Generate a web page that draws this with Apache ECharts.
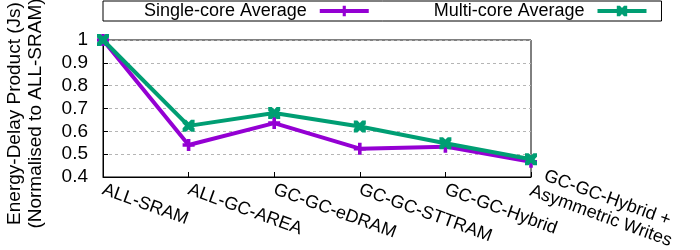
<!DOCTYPE html>
<html>
<head>
<meta charset="utf-8">
<script src="https://cdn.jsdelivr.net/npm/echarts@6/dist/echarts.min.js"></script>
<style>
html,body{margin:0;padding:0;background:#fff;}
#chart{width:700px;height:250px;}
</style>
</head>
<body>
<div id="chart"></div>
<script>
// ---- data ----
var categories = ['ALL-SRAM', 'ALL-GC-AREA', 'GC-GC-eDRAM', 'GC-GC-STTRAM', 'GC-GC-Hybrid', 'GC-GC-Hybrid +\nAsymmetric Writes'];
var singleCore = [1.0, 0.54, 0.636, 0.524, 0.533, 0.467];
var multiCore = [1.0, 0.624, 0.68, 0.621, 0.548, 0.478];
var seriesNames = ['Single-core Average', 'Multi-core Average'];
var yTickLabels = ['0.4', '0.5', '0.6', '0.7', '0.8', '0.9', '1'];
var yTitle = 'Energy-Delay Product (Js)\n(Normalised to ALL-SRAM)';

var FONT = '"Liberation Sans", Arial, Helvetica, sans-serif';
var plusPath = 'path://M3.5,0H6.5V3.5H10V6.5H6.5V10H3.5V6.5H0V3.5H3.5Z';
var xPath = 'path://M0,0H3L5,2L7,0H10V3L8,5L10,7V10H7L5,8L3,10H0V7L2,5L0,3Z';

var chart = echarts.init(document.getElementById('chart'), null, {renderer: 'canvas'});
chart.setOption({
  animation: false,
  backgroundColor: '#fff',
  textStyle: {fontFamily: FONT, color: '#000'},
  legend: {
    data: seriesNames,
    left: 103,
    top: 1,
    padding: [1, 13, 1, 41],
    align: 'right',
    itemGap: 63,
    itemWidth: 49,
    itemHeight: 13,
    borderColor: '#000',
    borderWidth: 1,
    borderRadius: 0,
    lineStyle: {width: 4},
    formatter: '{a|{name}}',
    textStyle: {
      fontFamily: FONT, fontSize: 18, color: '#000',
      rich: {a: {fontFamily: FONT, fontSize: 18, color: '#000', padding: [0, 8, 0, 0]}}
    }
  },
  grid: {left: 103, right: 169, top: 40, bottom: 73, show: true, borderColor: '#000', borderWidth: 1,
         backgroundColor: 'transparent', containLabel: false, outerBoundsMode: 'none'},
  xAxis: {
    type: 'category',
    data: categories,
    boundaryGap: false,
    axisLine: {lineStyle: {color: '#000', width: 1}},
    axisTick: {inside: true, length: 5, lineStyle: {color: '#000'}},
    splitLine: {show: false},
    axisLabel: {
      interval: 0,
      rotate: -20,
      margin: 12,
      color: '#000',
      fontFamily: FONT,
      fontSize: 18,
      formatter: function (v) {
        var parts = v.split('\n');
        if (parts.length === 1) return '{c|' + v + '}';
        return parts.map(function (s) { return '{c|' + s + '}'; }).join('\n') + '\n{e| }';
      },
      rich: {
        c: {fontFamily: FONT, fontSize: 18, color: '#000', align: 'center', lineHeight: 19},
        e: {fontFamily: FONT, fontSize: 2, color: '#fff', lineHeight: 16, height: 16}
      }
    }
  },
  yAxis: {
    type: 'value',
    min: 0.4,
    max: 1,
    interval: 0.1,
    name: yTitle,
    nameLocation: 'middle',
    nameRotate: 90,
    nameGap: 57,
    nameTextStyle: {fontFamily: FONT, fontSize: 19, color: '#000', lineHeight: 21, padding: [0, 10, 0, 0]},
    axisLine: {show: true, lineStyle: {color: '#000', width: 1}},
    axisTick: {show: true, inside: true, length: 5, lineStyle: {color: '#000'}},
    axisLabel: {
      margin: 15, color: '#000', fontFamily: FONT, fontSize: 19,
      formatter: function (v) {
        var idx = Math.round((v - 0.4) / 0.1);
        return yTickLabels[idx] !== undefined ? yTickLabels[idx] : String(v);
      }
    },
    splitLine: {show: true, lineStyle: {color: '#b5b5b5', width: 1, type: [3, 3]}}
  },
  series: [
    {
      name: seriesNames[0],
      type: 'line',
      data: singleCore,
      symbol: plusPath,
      symbolSize: 12,
      color: '#9400d3',
      itemStyle: {color: '#9400d3'},
      lineStyle: {color: '#9400d3', width: 4},
      z: 2
    },
    {
      name: seriesNames[1],
      type: 'line',
      data: multiCore,
      symbol: xPath,
      symbolSize: 12,
      color: '#009e73',
      itemStyle: {color: '#009e73'},
      lineStyle: {color: '#009e73', width: 4},
      z: 3
    }
  ]
});
</script>
</body>
</html>
